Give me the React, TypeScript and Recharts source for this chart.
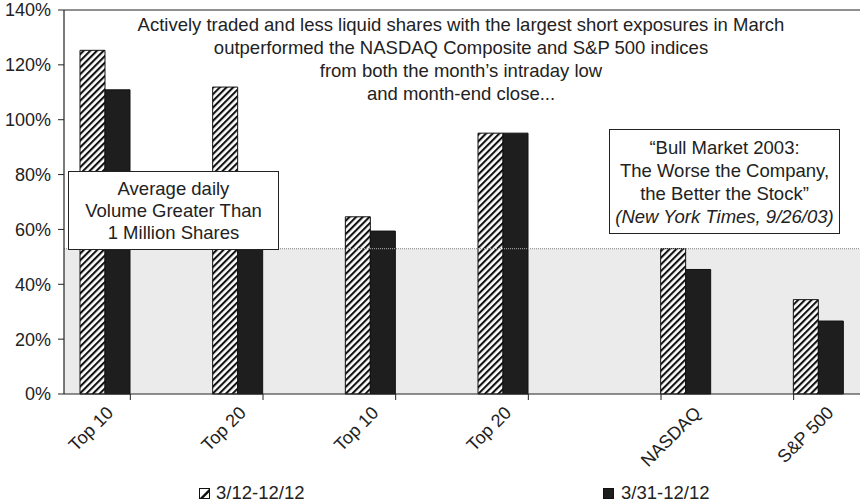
import React from "react";
import {
  BarChart,
  Bar,
  XAxis,
  YAxis,
  ReferenceArea,
  ReferenceLine,
  Legend,
} from "recharts";

const categories = ["Top 10", "Top 20", "Top 10", "Top 20", "NASDAQ", "S&P 500"];
const stocksFrom312: (number | null)[] = [125.3, 111.9, 64.6, 95.1, null, null];
const stocksFrom331: (number | null)[] = [110.9, 72, 59.4, 95.1, null, null];
const indexFrom312: (number | null)[] = [null, null, null, null, 53.0, 34.4];
const indexFrom331: (number | null)[] = [null, null, null, null, 45.4, 26.6];
const yTicks = [0, 20, 40, 60, 80, 100, 120, 140];
const legendLabels = ["3/12-12/12", "3/31-12/12"];

const data = categories.map((c, i) => ({
  name: c,
  a: stocksFrom312[i],
  b: stocksFrom331[i],
  c: indexFrom312[i],
  d: indexFrom331[i],
}));

const shadeLevel = indexFrom312[4] as number;

const FONT = "'Liberation Sans', Arial, Helvetica, sans-serif";
const TEXT = "#222";
const BAR = 25;

const XTick = (props: any) => {
  const { x, y, payload, index } = props;
  const left = stocksFrom312[index] != null;
  const cx = left ? x - BAR : x + BAR;
  const ax = cx + (left ? 9 : 16);
  const ay = y + 12;
  return (
    <text
      x={ax}
      y={ay}
      textAnchor="end"
      fontSize={18}
      fontFamily={FONT}
      style={{ fontFamily: FONT }}
      fill={TEXT}
      transform={`rotate(-45 ${ax} ${ay})`}
    >
      {payload.value}
    </text>
  );
};

const HatchIcon = () => (
  <svg width={11} height={11} style={{ display: "block" }}>
    <rect x={0.5} y={0.5} width={10} height={10} fill="#fff" stroke="#111" strokeWidth={1} />
    <polygon points="0.5,10.5 10.5,0.5 10.5,4 4,10.5" fill="#111" />
  </svg>
);

const SolidIcon = () => (
  <svg width={11} height={11} style={{ display: "block" }}>
    <rect x={0.5} y={0.5} width={10} height={10} fill="#1e1e1e" stroke="#111" strokeWidth={1} />
  </svg>
);

const LegendContent = () => (
  <div
    style={{
      position: "relative",
      width: 860,
      height: 24,
      fontFamily: FONT,
      fontSize: 18.5,
      lineHeight: "22px",
      color: TEXT,
    }}
  >
    <div style={{ position: "absolute", left: 199, top: 2, display: "flex", alignItems: "center", gap: 6 }}>
      <HatchIcon />
      <span style={{ fontFamily: FONT }}>{legendLabels[0]}</span>
    </div>
    <div style={{ position: "absolute", left: 603, top: 2, display: "flex", alignItems: "center", gap: 7 }}>
      <SolidIcon />
      <span style={{ fontFamily: FONT }}>{legendLabels[1]}</span>
    </div>
  </div>
);

const boxStyle: React.CSSProperties = {
  position: "absolute",
  background: "#fff",
  border: "1px solid #222",
  boxSizing: "border-box",
  textAlign: "center",
  fontFamily: FONT,
  fontSize: 18.5,
  color: TEXT,
  whiteSpace: "nowrap",
};

export default function App() {
  return (
    <div style={{ position: "absolute", left: 0, top: 0, width: 860, height: 504, background: "#fff", fontFamily: FONT }}>
      <BarChart
        width={860}
        height={504}
        data={data}
        margin={{ top: 10, right: 0, left: 0, bottom: 0 }}
        barGap={0}
        barSize={BAR}
      >
        <defs>
          <pattern id="hatch" patternUnits="userSpaceOnUse" width={4.7} height={4.7} patternTransform="rotate(45)">
            <rect width={4.7} height={4.7} fill="#fff" />
            <rect width={2.1} height={4.7} fill="#111" />
          </pattern>
        </defs>
        <ReferenceArea y1={0} y2={shadeLevel} fill="#ebebeb" fillOpacity={1} stroke="none" />
        <ReferenceLine y={shadeLevel} stroke="#999" strokeDasharray="1 1" strokeWidth={1.2} />
        <ReferenceLine y={140} stroke="#222" strokeWidth={1.2} />
        <XAxis
          dataKey="name"
          height={86}
          tick={<XTick />}
          tickLine={{ stroke: "#222" }}
          tickSize={6}
          axisLine={{ stroke: "#222", strokeWidth: 1.2 }}
          interval={0}
        />
        <YAxis
          width={64}
          domain={[0, 140]}
          ticks={yTicks}
          tickFormatter={(v: number) => `${v}%`}
          tick={{ fontSize: 18, fontFamily: FONT, fill: TEXT }}
          tickSize={6}
          tickMargin={7}
          tickLine={{ stroke: "#222" }}
          axisLine={{ stroke: "#222", strokeWidth: 1.2 }}
          interval={0}
        />
        <Legend verticalAlign="bottom" height={24} content={<LegendContent />} />
        <Bar dataKey="a" fill="url(#hatch)" stroke="#111" strokeWidth={1} isAnimationActive={false} />
        <Bar dataKey="b" fill="#1e1e1e" stroke="#111" strokeWidth={1} isAnimationActive={false} />
        <Bar dataKey="c" fill="url(#hatch)" stroke="#111" strokeWidth={1} isAnimationActive={false} />
        <Bar dataKey="d" fill="#1e1e1e" stroke="#111" strokeWidth={1} isAnimationActive={false} />
      </BarChart>

      <div
        style={{
          position: "absolute",
          left: 61,
          top: 13,
          width: 800,
          textAlign: "center",
          fontFamily: FONT,
          fontSize: 18.5,
          lineHeight: "23px",
          color: TEXT,
          whiteSpace: "nowrap",
        }}
      >
        <div>Actively traded and less liquid shares with the largest short exposures in March</div>
        <div>outperformed the NASDAQ Composite and S&amp;P 500 indices</div>
        <div>from both the month’s intraday low</div>
        <div>and month-end close...</div>
      </div>

      <div style={{ ...boxStyle, left: 68, top: 171, width: 211, height: 79, lineHeight: "22px", paddingTop: 6 }}>
        <div>Average daily</div>
        <div>Volume Greater Than</div>
        <div>1 Million Shares</div>
      </div>

      <div style={{ ...boxStyle, left: 609, top: 129, width: 231, height: 105, lineHeight: "23px", paddingTop: 6 }}>
        <div>“Bull Market 2003:</div>
        <div>The Worse the Company,</div>
        <div>the Better the Stock”</div>
        <div style={{ fontStyle: "italic" }}>(New York Times, 9/26/03)</div>
      </div>
    </div>
  );
}
